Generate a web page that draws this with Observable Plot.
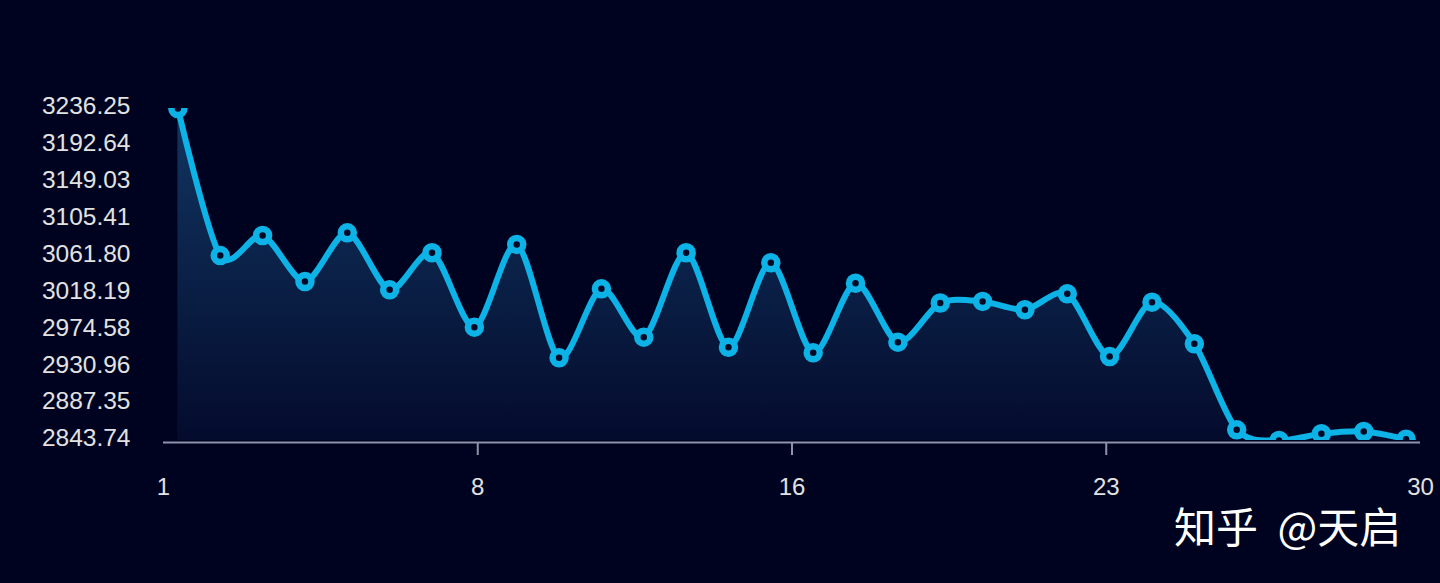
<!DOCTYPE html>
<html>
<head>
<meta charset="utf-8">
<script src="https://cdn.jsdelivr.net/npm/d3@7"></script>
<script src="https://cdn.jsdelivr.net/npm/@observablehq/plot@0.6"></script>
<style>
  html, body { margin: 0; padding: 0; background: #00031f; }
  #wrap { position: relative; width: 1440px; height: 583px; overflow: hidden; }
  #mark { position: absolute; left: 1174px; top: 494px; font-family: "Noto Sans CJK SC", sans-serif; font-size: 42px; color: #ffffff; white-space: nowrap; word-spacing: 10px; }
</style>
</head>
<body>
<div id="wrap">
  <div id="chart"></div>
  <div id="mark">知乎 @天启</div>
</div>
<script>
const days = [1, 2, 3, 4, 5, 6, 7, 8, 9, 10, 11, 12, 13, 14, 15, 16, 17, 18, 19, 20, 21, 22, 23, 24, 25, 26, 27, 28, 29, 30];
const values = [3236.25, 3062.4, 3086.1, 3031.7, 3089.3, 3021.9, 3065.7, 2977.7, 3075.5, 2941.5,
                3023.1, 2965.9, 3065.7, 2954.0, 3053.8, 2947.4, 3029.7, 2960.0, 3006.3, 3008.1,
                2998.3, 3017.2, 2943.0, 3007.3, 2958.1, 2856.4, 2843.74, 2851.7, 2854.4, 2845.2];
const yTicks = [2843.74, 2887.35, 2930.96, 2974.58, 3018.19, 3061.80, 3105.41, 3149.03, 3192.64, 3236.25];
const xDomain = [0.66, 30.34];
const xTicks = [0.66, 8.08, 15.5, 22.92, 30.34];
const xTickLabels = ["1", "8", "16", "23", "30"];
const xMidTicks = [8.08, 15.5, 22.92];

const data = days.map((d, i) => ({day: d, value: values[i]}));
const yMin = yTicks[0], yMax = yTicks[yTicks.length - 1];

const lineColor = "#0db3e6";
const axisColor = "#8b94ab";
const labelColor = "#e2e2e2";
const curve = "cardinal";
const tension = 0.15;

const chart = Plot.plot({
  width: 1440,
  height: 583,
  marginLeft: 163,
  marginRight: 20,
  marginTop: 108,
  marginBottom: 143,
  style: {background: "transparent", color: labelColor, fontFamily: "'Liberation Sans', Arial, sans-serif", fontSize: "24px"},
  x: {domain: xDomain, label: null},
  y: {domain: [yMin, yMax], label: null},
  marks: [
    Plot.areaY(data, {x: "day", y1: yMin, y2: "value", curve, tension, fill: "url(#areaGrad)", clip: true}),
    Plot.ruleY([yMin], {x1: xDomain[0], x2: xDomain[1], stroke: axisColor, strokeWidth: 2, dy: 2}),
    Plot.line(data, {x: "day", y: "value", curve, tension, stroke: lineColor, strokeWidth: 6, clip: true}),
    Plot.dot(data, {x: "day", y: "value", r: 6.5, fill: "#000a26", stroke: lineColor, strokeWidth: 6.5, clip: true}),
    Plot.axisY(yTicks, {label: null, tickSize: 0, tickPadding: 33, tickFormat: d => d.toFixed(2), fill: labelColor, fontSize: 24.5, dy: -2}),
    Plot.axisX(xTicks, {label: null, tickSize: 0, tickPadding: 37, tickFormat: (d, i) => xTickLabels[i], fill: labelColor, fontSize: 24}),
    Plot.axisX(xMidTicks, {label: null, tickSize: 13, tickFormat: () => "", stroke: axisColor, strokeWidth: 2, dy: 2})
  ]
});

const svg = d3.select(chart);
const defs = svg.insert("defs", ":first-child");
const grad = defs.append("linearGradient")
  .attr("id", "areaGrad")
  .attr("gradientUnits", "userSpaceOnUse")
  .attr("x1", 0).attr("y1", 108).attr("x2", 0).attr("y2", 440);
grad.append("stop").attr("offset", "0%").attr("stop-color", "#113661");
grad.append("stop").attr("offset", "100%").attr("stop-color", "#040b2d");

document.getElementById("chart").appendChild(chart);
</script>
</body>
</html>
